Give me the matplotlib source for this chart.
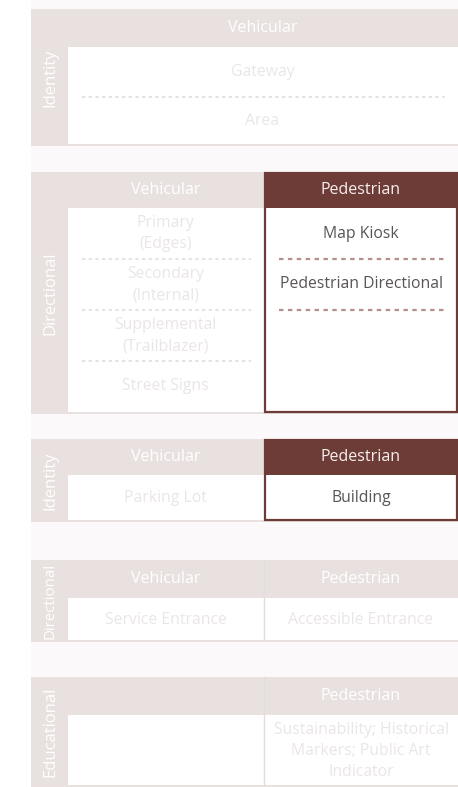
import matplotlib
matplotlib.use("Agg")
import matplotlib.pyplot as plt
from matplotlib.patches import Rectangle

plt.rcParams['font.family'] = ['Open Sans', 'DejaVu Sans']

# ---- data ----
section_labels = ["Identity", "Directional", "Identity", "Directional", "Educational"]
column_headers = [
    ["Vehicular"],
    ["Vehicular", "Pedestrian"],
    ["Vehicular", "Pedestrian"],
    ["Vehicular", "Pedestrian"],
    ["", "Pedestrian"],
]
column_items = [
    [["Gateway", "Area"]],
    [["Primary\n(Edges)", "Secondary\n(Internal)", "Supplemental\n(Trailblazer)", "Street Signs"],
     ["Map Kiosk", "Pedestrian Directional"]],
    [["Parking Lot"], ["Building"]],
    [["Service Entrance"], ["Accessible Entrance"]],
    [[], ["Sustainability; Historical\nMarkers; Public Art\nIndicator"]],
]
highlighted = [
    [False],
    [False, True],
    [False, True],
    [False, False],
    [False, False],
]

# ---- layout (pixels) ----
W, H = 458, 787
sec_top = [9, 172, 439, 560, 677]
sec_head = [47, 208, 475, 598, 715]
sec_bot = [146, 414, 522, 642, 787]
slot_h = [None, 51, None, None, None]
label_size = [12, 12, 12, 10.8, 12]
x_left, x_lab, x_mid, x_right = 31, 67, 264, 458

LIGHT = "#e8e1e0"
DARK = "#6e3c37"
FAINT = "#ebe6e6"
DARKTXT = "#5a5555"
DOT_LIGHT = "#e4dede"
DOT_DARK = "#b58f8a"

fig = plt.figure(figsize=(W / 100, H / 100), dpi=100)
ax = fig.add_axes([0, 0, 1, 1])
ax.set_xlim(0, W)
ax.set_ylim(H, 0)
ax.axis("off")

ax.add_patch(Rectangle((x_left, 0), W - x_left, H, fc="#fbf9f9", ec="none", zorder=0))

for s in range(len(section_labels)):
    top, head, bot = sec_top[s], sec_head[s], sec_bot[s]
    ax.add_patch(Rectangle((x_left, top), W - x_left, bot - top, fc=LIGHT, ec="none", zorder=1))
    ax.add_patch(Rectangle((x_lab + 1, head), W - x_lab - 1, bot - head - 2, fc="white", ec="none", zorder=2))
    ax.text((x_left + x_lab) / 2 + 1, (top + bot) / 2, section_labels[s], rotation=90,
            ha="center", va="center", color="white", fontsize=label_size[s], zorder=5)
    ncol = len(column_headers[s])
    if ncol == 1:
        bounds = [(x_lab, x_right)]
    else:
        bounds = [(x_lab, x_mid), (x_mid, x_right)]
        if not any(highlighted[s]):
            ax.plot([x_mid, x_mid], [top, bot - 2], color="#e2dcdb", lw=1, zorder=3)
    for c in range(ncol):
        x0, x1 = bounds[c]
        xc = (x0 + x1) / 2
        hl = highlighted[s][c]
        if hl:
            ax.add_patch(Rectangle((x0, top), x1 - x0, head - top, fc=DARK, ec="none", zorder=3))
            ax.add_patch(Rectangle((x0 + 0.75, top + 0.75), x1 - x0 - 1.5, bot - top - 2.5,
                                   fc="none", ec=DARK, lw=1.6, zorder=4))
        ax.text(xc, (top + head) / 2, column_headers[s][c], ha="center", va="center",
                color="#f6efee" if hl else "white", fontsize=11.5, zorder=5)
        items = column_items[s][c]
        if not items:
            continue
        sh = slot_h[s] if slot_h[s] else (bot - head) / len(items)
        for i, it in enumerate(items):
            yc = head + sh * (i + 0.5)
            ax.text(xc, yc, it, ha="center", va="center", linespacing=1.45,
                    color=DARKTXT if hl else FAINT, fontsize=11.3, zorder=5)
            last = i == len(items) - 1
            if (not last) or (hl and len(items) > 1):
                yd = head + sh * (i + 1)
                ax.plot([x0 + 15, x1 - 13], [yd, yd], color=DOT_DARK if hl else DOT_LIGHT,
                        lw=1.6 if hl else 1.2, ls=(0, (2, 2)), zorder=5)

fig.savefig("out.png", dpi=100, facecolor="white")
